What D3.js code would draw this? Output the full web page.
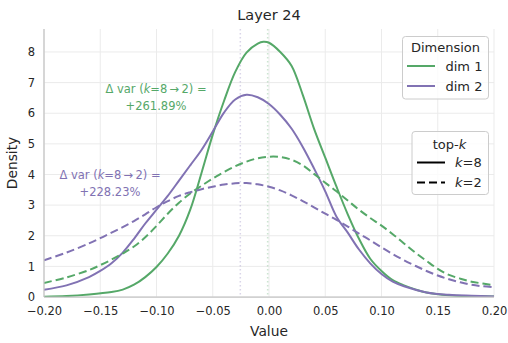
<!DOCTYPE html>
<html><head><meta charset="utf-8">
<script src="https://cdn.jsdelivr.net/npm/d3@7"></script>
<style>
html,body{margin:0;padding:0;background:#fff;}
svg{display:block;font-family:"DejaVu Sans",sans-serif;}
</style></head>
<body>
<svg id="chart" width="508" height="343"></svg>
<script>
const title = "Layer 24";
const xTicks = [-0.20,-0.15,-0.10,-0.05,0.00,0.05,0.10,0.15,0.20];
const yTicks = [0,1,2,3,4,5,6,7,8];
const dimNames = ["dim 1","dim 2"];
const kNames = ["k=8","k=2"];
const colors = ["#55a868","#8172b3"];
const meanLines = [-0.0012, -0.0255];

const xsDim1K8 = [-0.20,-0.18,-0.16,-0.14,-0.13,-0.12,-0.11,-0.10,-0.09,-0.08,-0.07,-0.06,-0.05,-0.04,-0.03,-0.02,-0.01,-0.005,0.00,0.01,0.02,0.03,0.04,0.05,0.06,0.07,0.08,0.09,0.10,0.11,0.12,0.13,0.14,0.16,0.18,0.20];
const dim1K8 = [0.01,0.03,0.08,0.16,0.24,0.40,0.65,0.98,1.42,2.00,2.85,4.05,5.30,6.40,7.35,7.98,8.27,8.33,8.30,8.00,7.55,6.60,5.50,4.55,3.60,2.70,1.90,1.25,0.85,0.55,0.38,0.25,0.15,0.06,0.03,0.02];

const xsDim2K8 = [-0.20,-0.18,-0.16,-0.15,-0.14,-0.13,-0.12,-0.11,-0.10,-0.09,-0.08,-0.07,-0.06,-0.05,-0.04,-0.03,-0.02,-0.01,0.00,0.01,0.02,0.03,0.04,0.05,0.06,0.07,0.08,0.09,0.10,0.11,0.12,0.14,0.16,0.18,0.20];
const dim2K8 = [0.24,0.38,0.65,0.85,1.10,1.45,1.90,2.40,2.85,3.30,3.80,4.30,4.80,5.40,6.02,6.45,6.60,6.52,6.30,5.95,5.50,4.90,4.20,3.45,2.62,2.10,1.55,1.10,0.75,0.50,0.35,0.15,0.07,0.04,0.02];

const xsK2 = [-0.20,-0.18,-0.16,-0.15,-0.14,-0.13,-0.12,-0.11,-0.10,-0.09,-0.08,-0.07,-0.06,-0.05,-0.04,-0.03,-0.02,-0.01,0.00,0.01,0.02,0.03,0.04,0.05,0.06,0.07,0.08,0.09,0.10,0.11,0.12,0.13,0.14,0.15,0.16,0.17,0.18,0.19,0.20];
const dim1K2 = [0.46,0.64,0.88,1.04,1.22,1.42,1.65,1.95,2.32,2.72,3.08,3.38,3.63,3.87,4.08,4.27,4.42,4.53,4.58,4.57,4.48,4.30,4.02,3.73,3.45,3.15,2.85,2.58,2.33,2.05,1.75,1.45,1.18,0.92,0.72,0.60,0.50,0.44,0.38];
const dim2K2 = [1.20,1.45,1.75,1.92,2.10,2.28,2.48,2.70,2.93,3.13,3.30,3.42,3.52,3.60,3.67,3.71,3.72,3.68,3.60,3.48,3.32,3.13,2.93,2.72,2.52,2.30,2.07,1.85,1.62,1.40,1.20,1.02,0.85,0.70,0.58,0.48,0.40,0.35,0.32];

const svg = d3.select("#chart");
const L = 44, R = 494, T = 29, B = 297;
const x = d3.scaleLinear().domain([-0.2,0.2]).range([L,R]);
const y = d3.scaleLinear().domain([0,8.75]).range([B,T]);
const textCol = "#262626";

// grid
const g = svg.append("g");
g.selectAll(".vg").data(xTicks).enter().append("line")
  .attr("x1",d=>x(d)).attr("x2",d=>x(d)).attr("y1",T).attr("y2",B)
  .attr("stroke","#ebebeb").attr("stroke-width",1);
g.selectAll(".hg").data(yTicks).enter().append("line")
  .attr("x1",L).attr("x2",R).attr("y1",d=>y(d)).attr("y2",d=>y(d))
  .attr("stroke","#ebebeb").attr("stroke-width",1);

// mean lines
meanLines.forEach((m,i)=>{
  svg.append("line").attr("x1",x(m)).attr("x2",x(m)).attr("y1",T).attr("y2",B)
    .attr("stroke",colors[i]).attr("stroke-opacity",0.3).attr("stroke-width",1.5)
    .attr("stroke-dasharray","1.5,2.5");
});

// curves
const line = (xs) => d3.line().x((d,i)=>x(xs[i])).y(d=>y(d)).curve(d3.curveCatmullRom.alpha(0.5));
const series = [
  {xs:xsDim1K8, v:dim1K8, c:colors[0], dash:null},
  {xs:xsDim2K8, v:dim2K8, c:colors[1], dash:null},
  {xs:xsK2, v:dim1K2, c:colors[0], dash:"8,4"},
  {xs:xsK2, v:dim2K2, c:colors[1], dash:"8,4"}
];
svg.append("clipPath").attr("id","clp").append("rect")
  .attr("x",L).attr("y",T-5).attr("width",R-L).attr("height",B-T+5);
series.forEach(s=>{
  svg.append("path").attr("d",line(s.xs)(s.v)).attr("fill","none")
    .attr("stroke",s.c).attr("stroke-width",2)
    .attr("stroke-dasharray",s.dash).attr("clip-path","url(#clp)");
});

// spines
svg.append("line").attr("x1",L).attr("x2",L).attr("y1",T).attr("y2",B).attr("stroke","#c4c4c4").attr("stroke-width",1.25);
svg.append("line").attr("x1",L).attr("x2",R).attr("y1",B).attr("y2",B).attr("stroke","#c4c4c4").attr("stroke-width",1.25);

// axes with d3
const fmt = d => (d<0?"\u2212":"") + Math.abs(d).toFixed(2);
const xAxis = svg.append("g").attr("transform",`translate(0,${B})`)
  .call(d3.axisBottom(x).tickValues(xTicks).tickFormat(fmt).tickSize(0).tickPadding(10));
const yAxis = svg.append("g").attr("transform",`translate(${L},0)`)
  .call(d3.axisLeft(y).tickValues(yTicks).tickFormat(d3.format("d")).tickSize(0).tickPadding(9));
[xAxis,yAxis].forEach(a=>{
  a.select(".domain").remove();
  a.selectAll("text").attr("fill",textCol).style("font-size","11.5px").style("font-family","DejaVu Sans");
});

// labels
svg.append("text").attr("x",269).attr("y",20).attr("text-anchor","middle")
  .attr("fill",textCol).style("font-size","14.5px").text(title);
svg.append("text").attr("x",269).attr("y",336).attr("text-anchor","middle")
  .attr("fill",textCol).style("font-size","13.8px").text("Value");
svg.append("text").attr("transform","translate(17,163) rotate(-90)").attr("text-anchor","middle")
  .attr("fill",textCol).style("font-size","13.8px").text("Density");

// annotations
function annot(cx, cy, col, pct){
  const t1 = svg.append("text").attr("x",cx).attr("y",cy).attr("text-anchor","middle")
    .attr("fill",col).style("font-size","11.5px");
  t1.append("tspan").text("\u0394 var (");
  t1.append("tspan").style("font-style","italic").text("k");
  t1.append("tspan").text("=8\u2009\u2192\u20092) =");
  svg.append("text").attr("x",cx).attr("y",cy+17).attr("text-anchor","middle")
    .attr("fill",col).style("font-size","11.5px").text(pct);
}
annot(156, 93, colors[0], "+261.89%");
annot(110, 179, colors[1], "+228.23%");

// legend 1
const lg1 = svg.append("g");
lg1.append("rect").attr("x",402.5).attr("y",36.5).attr("width",86).attr("height",62.5).attr("rx",3)
  .attr("fill","#fff").attr("fill-opacity",0.8).attr("stroke","#cccccc");
lg1.append("text").attr("x",445.5).attr("y",51.5).attr("text-anchor","middle").attr("fill",textCol)
  .style("font-size","13px").text("Dimension");
dimNames.forEach((n,i)=>{
  const yy = 66 + i*20;
  lg1.append("line").attr("x1",407).attr("x2",435).attr("y1",yy).attr("y2",yy).attr("stroke",colors[i]).attr("stroke-width",2);
  lg1.append("text").attr("x",445.5).attr("y",yy+4.5).attr("fill",textCol).style("font-size","13px").text(n);
});
// legend 2
const lg2 = svg.append("g");
lg2.append("rect").attr("x",412).attr("y",131.5).attr("width",76.5).attr("height",63).attr("rx",3)
  .attr("fill","#fff").attr("fill-opacity",0.8).attr("stroke","#cccccc");
const lt = lg2.append("text").attr("x",449.5).attr("y",148.5).attr("text-anchor","middle").attr("fill",textCol)
  .style("font-size","13px");
lt.append("tspan").text("top-");
lt.append("tspan").style("font-style","italic").text("k");
kNames.forEach((n,i)=>{
  const yy = 162.5 + i*20;
  lg2.append("line").attr("x1",417).attr("x2",445).attr("y1",yy).attr("y2",yy).attr("stroke","#000").attr("stroke-width",2)
    .attr("stroke-dasharray", i===1 ? "8,4" : null);
  const tt = lg2.append("text").attr("x",455).attr("y",yy+4.5).attr("fill",textCol).style("font-size","13px");
  tt.append("tspan").style("font-style","italic").text("k");
  tt.append("tspan").text(n.slice(1));
});
</script>
</body></html>
